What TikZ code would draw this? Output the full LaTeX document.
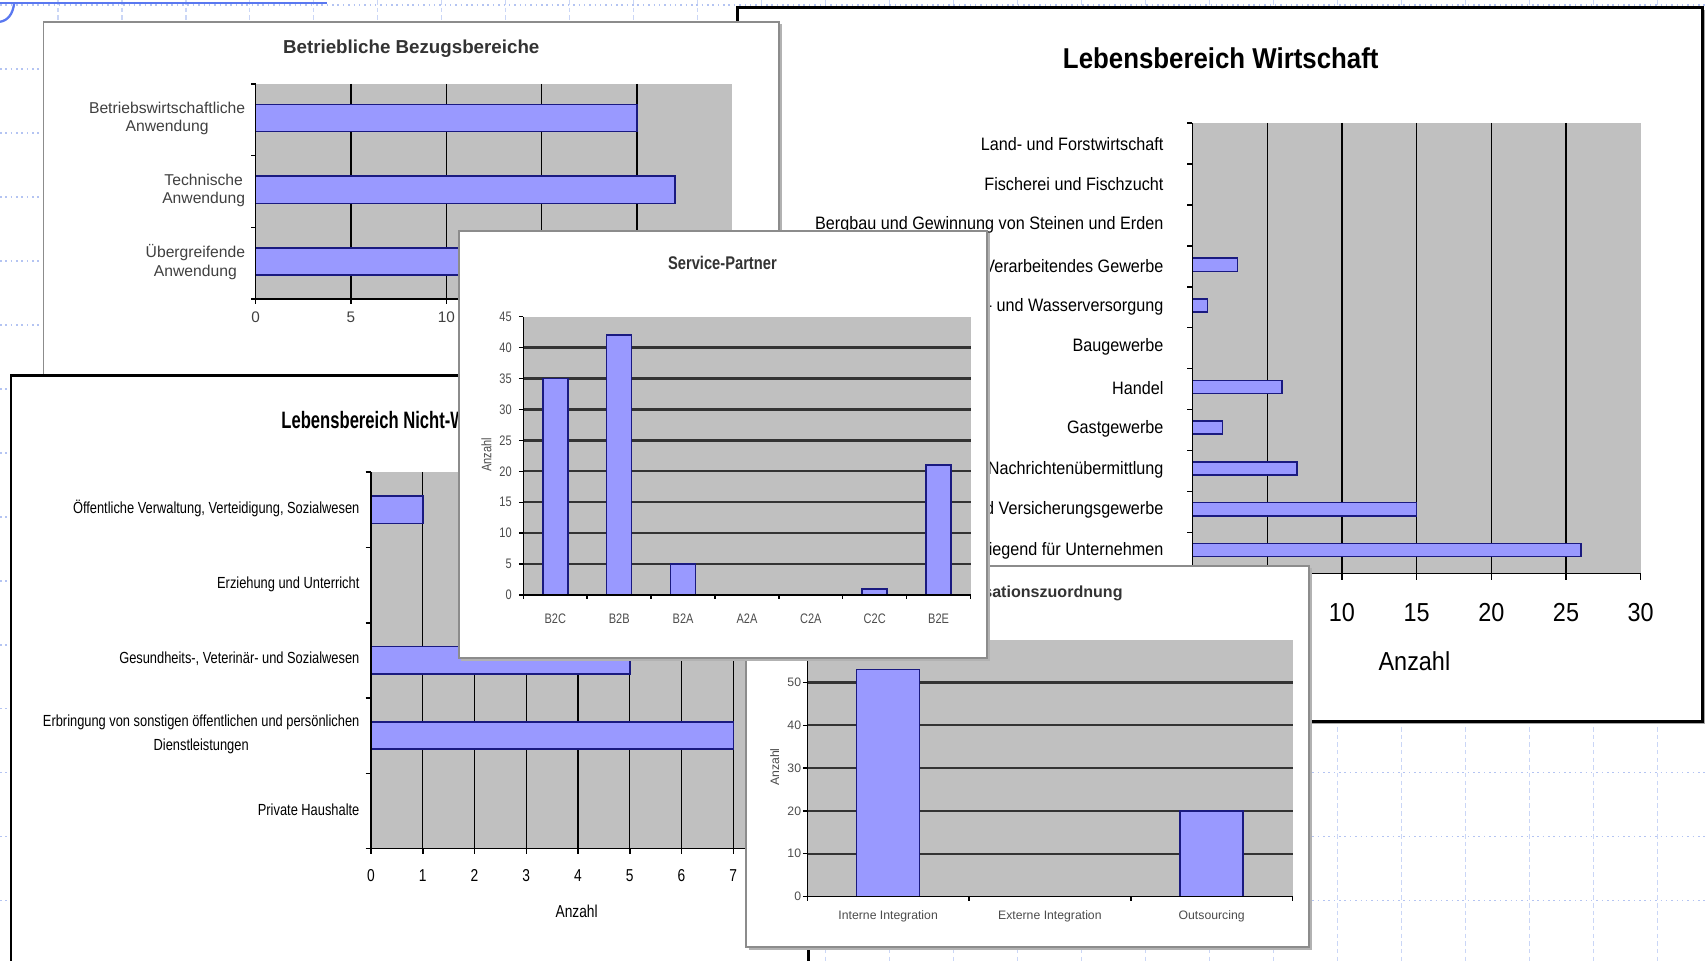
\documentclass[tikz,border=0pt]{standalone}
\usepackage{fontspec}
\setmainfont{Liberation Sans}
\newfontfamily\chartfont[FakeStretch=0.9]{Liberation Sans}
\newfontfamily\narrowfont[FakeStretch=0.8]{Liberation Sans}
\newfontfamily\slimfont[FakeStretch=0.7]{Liberation Sans}
\definecolor{plotgray}{HTML}{C0C0C0}
\definecolor{barfill}{HTML}{9999FF}
\definecolor{barline}{HTML}{1A1A80}
\definecolor{gridblue}{HTML}{B4C4F2}
\definecolor{slideblue}{HTML}{5A78F0}
\tikzset{
  slidegridv/.style={gridblue!70, dash pattern=on 1.2pt off 0.8pt, line width=0.3pt},
  slidegridh/.style={gridblue, densely dotted, line width=0.4pt},
  softframe/.style={draw=black!45, fill=white, line width=0.5pt},
  softshadow/.style={fill=black!30},
  hardframe/.style={draw=black, fill=white, line width=0.7pt},
  plotarea/.style={fill=plotgray},
  vgrid/.style={black, line width=0.35pt},
  hgrid/.style={black!80, line width=0.6pt},
  axis/.style={black, line width=0.4pt},
  bar/.style={draw=barline, fill=barfill, line width=0.4pt},
  bbtitle/.style={inner sep=0pt, font=\bfseries\fontsize{4.9}{5.5}\selectfont, text=black!80},
  bblabel/.style={inner sep=0pt, anchor=east, align=center, font=\fontsize{4.1}{4.8}\selectfont, text=black!75},
  bbtick/.style={inner sep=0pt, font=\fontsize{4}{4.5}\selectfont, text=black!75},
  wtitle/.style={inner sep=0pt, font=\chartfont\bfseries\fontsize{7.5}{8}\selectfont},
  wlabel/.style={inner sep=0pt, anchor=east, font=\chartfont\fontsize{4.7}{5.4}\selectfont},
  wtick/.style={inner sep=0pt, font=\chartfont\fontsize{6.8}{7.5}\selectfont},
  ntitle/.style={inner sep=0pt, anchor=west, font=\slimfont\bfseries\fontsize{6.2}{7}\selectfont},
  nlabel/.style={inner sep=0pt, anchor=east, align=center, font=\narrowfont\fontsize{4.2}{6.4}\selectfont},
  ntick/.style={inner sep=0pt, font=\narrowfont\fontsize{4.5}{5}\selectfont},
  sptitle/.style={inner sep=0pt, font=\narrowfont\bfseries\fontsize{4.8}{5.4}\selectfont, text=black!80},
  sptick/.style={inner sep=0pt, font=\narrowfont\fontsize{3.6}{4}\selectfont, text=black!70},
  ortitle/.style={inner sep=0pt, font=\bfseries\fontsize{4.2}{4.8}\selectfont, text=black!80},
  ortick/.style={inner sep=0pt, font=\fontsize{3.2}{3.6}\selectfont, text=black!70}
}
\begin{document}
\begin{tikzpicture}[x=0.01cm,y=-0.01cm]
\useasboundingbox (0,0) rectangle (1568,883);
\clip (0,0) rectangle (1568,883);
% slide background
\foreach \k in {0,...,25} \draw[slidegridv] (53.3+58.8*\k,0) -- (53.3+58.8*\k,883);
\foreach \k in {0,...,14} \draw[slidegridh] (0,4.6+58.8*\k) -- (1568,4.6+58.8*\k);
\draw[slideblue, line width=0.6pt] (0,2.8) -- (301,2.8);
\draw[slideblue, line width=0.6pt] (13,2.8) .. controls (12,13) and (7,19) .. (0,20);

% Lebensbereich Wirtschaft
\fill[black!35] (680,9) rectangle (1567,665);
\draw[hardframe] (678,7) rectangle (1565,663);
\node[wtitle] (lw-title) at (1122,54) {Lebensbereich Wirtschaft};
\fill[plotarea] (1096,113) rectangle (1508,527);
\foreach \v in {5,10,...,25} \draw[vgrid] (1096+13.733*\v,113) -- (1096+13.733*\v,527);
\foreach \i/\v in {3/3,4/1,6/6,7/2,8/7,9/15,10/26}
  \draw[bar] (1096,125+37.45*\i) rectangle (1096+13.733*\v,137+37.45*\i);
\draw[axis] (1096,113) -- (1096,527) -- (1508,527);
\foreach \k in {0,...,11} \draw[axis] (1091,113+37.64*\k) -- (1096,113+37.64*\k);
\foreach \v in {0,5,...,30} \draw[axis] (1096+13.733*\v,527) -- (1096+13.733*\v,533);
\foreach \i/\t in {0/Land- und Forstwirtschaft, 1/Fischerei und Fischzucht,
    2/Bergbau und Gewinnung von Steinen und Erden, 3/Verarbeitendes Gewerbe,
    4/Energie- und Wasserversorgung, 5/Baugewerbe, 6/Handel, 7/Gastgewerbe,
    8/Verkehr und Nachrichtenübermittlung, 9/Kredit- und Versicherungsgewerbe,
    10/Erbringung von Dienstleistungen überwiegend für Unternehmen}
  \node[wlabel] (lw-cat\i) at (1070,132+37.45*\i) {\t};
\foreach \v in {0,5,...,30} \node[wtick] (lw-x\v) at (1096+13.733*\v,563) {\v};
\node[wtick] (lw-axis) at (1300,608) {Anzahl};

% Betriebliche Bezugsbereiche
\fill[softshadow] (42,22) rectangle (719,351);
\draw[softframe] (40,20) rectangle (716,348);
\node[bbtitle] (bb-title) at (378,45) {Betriebliche Bezugsbereiche};
\fill[plotarea] (235,77) rectangle (673,275);
\foreach \v in {5,10,15,20} \draw[vgrid] (235+17.52*\v,77) -- (235+17.52*\v,275);
\foreach \i/\v in {0/20,1/22,2/18} \draw[bar] (235,96+66*\i) rectangle (235+17.52*\v,121+66*\i);
\draw[axis] (235,77) -- (235,275) -- (673,275);
\foreach \i in {0,...,3} \draw[axis] (231,77+66*\i) -- (235,77+66*\i);
\foreach \v in {0,5,...,25} \draw[axis] (235+17.52*\v,275) -- (235+17.52*\v,279);
\node[bblabel] (bb-cat0) at (226,109) {Betriebswirtschaftliche\\Anwendung};
\node[bblabel] (bb-cat1) at (226,175) {Technische\\Anwendung};
\node[bblabel] (bb-cat2) at (226,241) {Übergreifende\\Anwendung};
\foreach \v in {0,5,10} \node[bbtick] (bb-x\v) at (235+17.52*\v,292) {\v};

% Lebensbereich Nicht-Wirtschaft
\draw[hardframe] (10,345) rectangle (743,900);
\begin{scope}
  \clip (10,345) rectangle (422,430);
  \node[ntitle] (ln-title) at (258,386) {Lebensbereich Nicht-Wirtschaft};
\end{scope}
\fill[plotarea] (341,434) rectangle (705,780);
\foreach \v in {1,...,7} \draw[vgrid] (341+47.57*\v,434) -- (341+47.57*\v,780);
\foreach \i/\v in {0/1,2/5,3/7} \draw[bar] (341,456+69.2*\i) rectangle (341+47.57*\v,481+69.2*\i);
\draw[axis] (341,434) -- (341,780) -- (705,780);
\foreach \k in {0,...,5} \draw[axis] (336,434+69.2*\k) -- (341,434+69.2*\k);
\foreach \v in {0,...,7} \draw[axis] (341+47.57*\v,780) -- (341+47.57*\v,785);
\node[nlabel] (ln-cat0) at (331,467) {Öffentliche Verwaltung, Verteidigung, Sozialwesen};
\node[nlabel] (ln-cat1) at (331,537) {Erziehung und Unterricht};
\node[nlabel] (ln-cat2) at (331,605) {Gesundheits-, Veterinär- und Sozialwesen};
\node[nlabel] (ln-cat3) at (331,675) {Erbringung von sonstigen öffentlichen und persönlichen\\Dienstleistungen};
\node[nlabel] (ln-cat4) at (331,744) {Private Haushalte};
\foreach \v in {0,...,7} \node[ntick] (ln-x\v) at (341+47.57*\v,805) {\v};
\node[ntick] (ln-axis) at (530,838) {Anzahl};

% Organisationszuordnung
\fill[softshadow] (688,522) rectangle (1206,873);
\draw[softframe] (686,520) rectangle (1203,870);
\node[ortitle] (oz-title) at (944,545) {Organisationszuordnung};
\fill[plotarea] (742,588) rectangle (1188,824);
\foreach \v in {10,20,...,50} \draw[hgrid] (742,824-3.933*\v) -- (1188,824-3.933*\v);
\foreach \i/\v in {0/53,2/20} \draw[bar] (787.3+148.67*\i,824) rectangle (845.3+148.67*\i,824-3.933*\v);
\draw[axis] (742,588) -- (742,824) -- (1188,824);
\foreach \v in {0,10,...,60} \draw[axis] (738,824-3.933*\v) -- (742,824-3.933*\v);
\foreach \k in {0,...,3} \draw[axis] (742+148.67*\k,824) -- (742+148.67*\k,828);
\foreach \v in {0,10,...,50} \node[ortick, anchor=east] (oz-y\v) at (737,824-3.933*\v) {\v};
\node[ortick, rotate=90] (oz-axis) at (712,705) {Anzahl};
\foreach \i/\t in {0/Interne Integration, 1/Externe Integration, 2/Outsourcing}
  \node[ortick] (oz-cat\i) at (816.3+148.67*\i,842) {\t};

% Service-Partner
\fill[softshadow] (424,214) rectangle (910,608);
\draw[softframe] (422,212) rectangle (907,605);
\node[sptitle] (sp-title) at (664,242) {Service-Partner};
\fill[plotarea] (481,291) rectangle (892,547);
\foreach \v in {5,10,...,40} \draw[hgrid] (481,547-5.689*\v) -- (892,547-5.689*\v);
\foreach \i/\v in {0/35,1/42,2/5,5/1,6/21}
  \draw[bar] (498.9+58.71*\i,547) rectangle (521.9+58.71*\i,547-5.689*\v);
\draw[axis] (481,291) -- (481,547) -- (892,547);
\foreach \v in {0,5,...,45} \draw[axis] (477,547-5.689*\v) -- (481,547-5.689*\v);
\foreach \k in {0,...,7} \draw[axis] (481+58.71*\k,547) -- (481+58.71*\k,551);
\foreach \v in {0,5,...,45} \node[sptick, anchor=east] (sp-y\v) at (471,547-5.689*\v) {\v};
\node[sptick, rotate=90] (sp-axis) at (447,418) {Anzahl};
\foreach \i/\t in {0/B2C, 1/B2B, 2/B2A, 3/A2A, 4/C2A, 5/C2C, 6/B2E}
  \node[sptick] (sp-cat\i) at (510.4+58.71*\i,569) {\t};
\end{tikzpicture}
\end{document}
